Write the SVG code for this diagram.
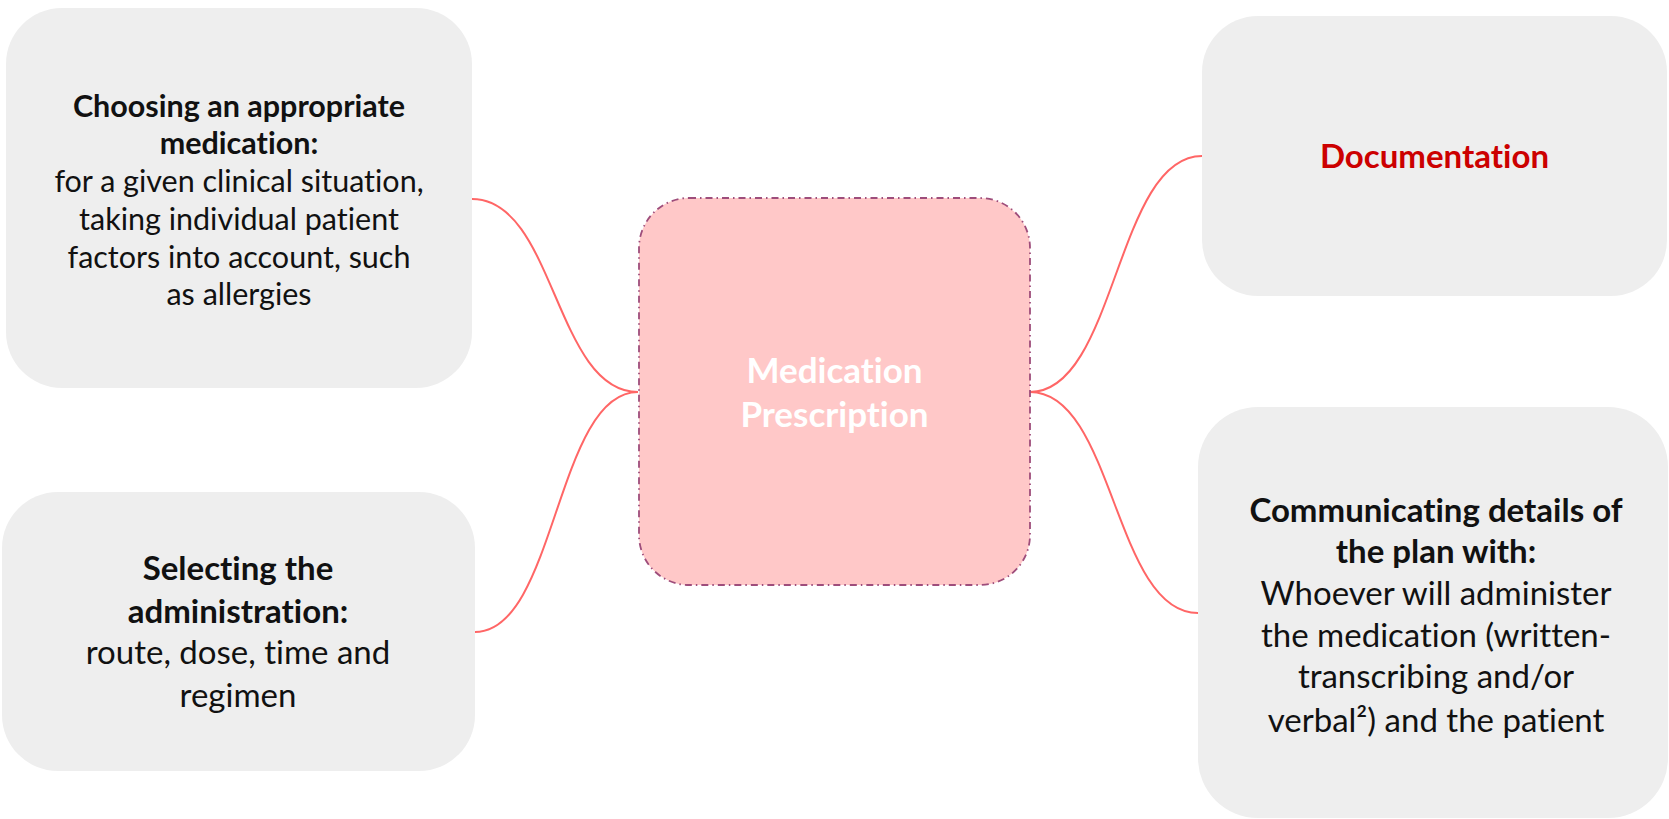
<svg xmlns="http://www.w3.org/2000/svg" width="1669" height="819" viewBox="0 0 1669 819">
  <style>
    .card { fill: #eeeeee; }
    .hub { fill: #ffc8c8; stroke: #9e4d7b; stroke-width: 1.8; stroke-dasharray: 7 4 1.5 4; }
    .link { fill: none; stroke: #ff6666; stroke-width: 2; }
    text { font-family: Lato, "Open Sans", "Liberation Sans", sans-serif; text-anchor: middle; fill: #111111; font-variant-ligatures: none; }
    .b { font-weight: bold; }
    .hub-label { fill: #ffffff; font-weight: bold; font-size: 35px; }
    .doc { fill: #cc0000; font-weight: bold; font-size: 33px; }
    .t30 { font-size: 30.5px; }
    .t33 { font-size: 33px; }
  </style>

  <rect width="1669" height="819" fill="#ffffff"/>

  <!-- curved links from the central node -->
  <g id="connectors">
    <path class="link" d="M638,392 C555,392 555,199 472,199"/>
    <path class="link" d="M638,392 C556,392 556,632 475,632"/>
    <path class="link" d="M1030,392 C1116,392 1116,156 1202,156"/>
    <path class="link" d="M1030,392 C1114,392 1114,613 1198,613"/>
  </g>

  <g id="node-center">
    <rect class="hub" x="639" y="198" width="391" height="387" rx="50" ry="50"/>
    <text class="hub-label" x="834.5" y="383">Medication</text>
    <text class="hub-label" x="834.5" y="427">Prescription</text>
  </g>

  <g id="node-choosing">
    <rect class="card" x="6" y="8" width="466" height="380" rx="56" ry="56"/>
    <text class="t30 b" x="239" y="117">Choosing an appropriate</text>
    <text class="t30 b" x="239" y="154">medication:</text>
    <text class="t30" x="239" y="192">for a given clinical situation,</text>
    <text class="t30" x="239" y="230">taking individual patient</text>
    <text class="t30" x="239" y="268">factors into account, such</text>
    <text class="t30" x="239" y="305">as allergies</text>
  </g>

  <g id="node-selecting">
    <rect class="card" x="2" y="492" width="473" height="279" rx="56" ry="56"/>
    <text class="t33 b" x="238" y="580">Selecting the</text>
    <text class="t33 b" x="238" y="623">administration:</text>
    <text class="t33" x="238" y="664">route, dose, time and</text>
    <text class="t33" x="238" y="707">regimen</text>
  </g>

  <g id="node-documentation">
    <rect class="card" x="1202" y="16" width="465" height="280" rx="56" ry="56"/>
    <text class="doc" x="1434.5" y="168">Documentation</text>
  </g>

  <g id="node-communicating">
    <rect class="card" x="1198" y="407" width="470" height="411" rx="60" ry="60"/>
    <text class="t33 b" x="1436" y="522">Communicating details of</text>
    <text class="t33 b" x="1436" y="563">the plan with:</text>
    <text class="t33" x="1436" y="605">Whoever will administer</text>
    <text class="t33" x="1436" y="647">the medication (written-</text>
    <text class="t33" x="1436" y="688">transcribing and/or</text>
    <text class="t33" x="1436" y="732">verbal²) and the patient</text>
  </g>
</svg>
